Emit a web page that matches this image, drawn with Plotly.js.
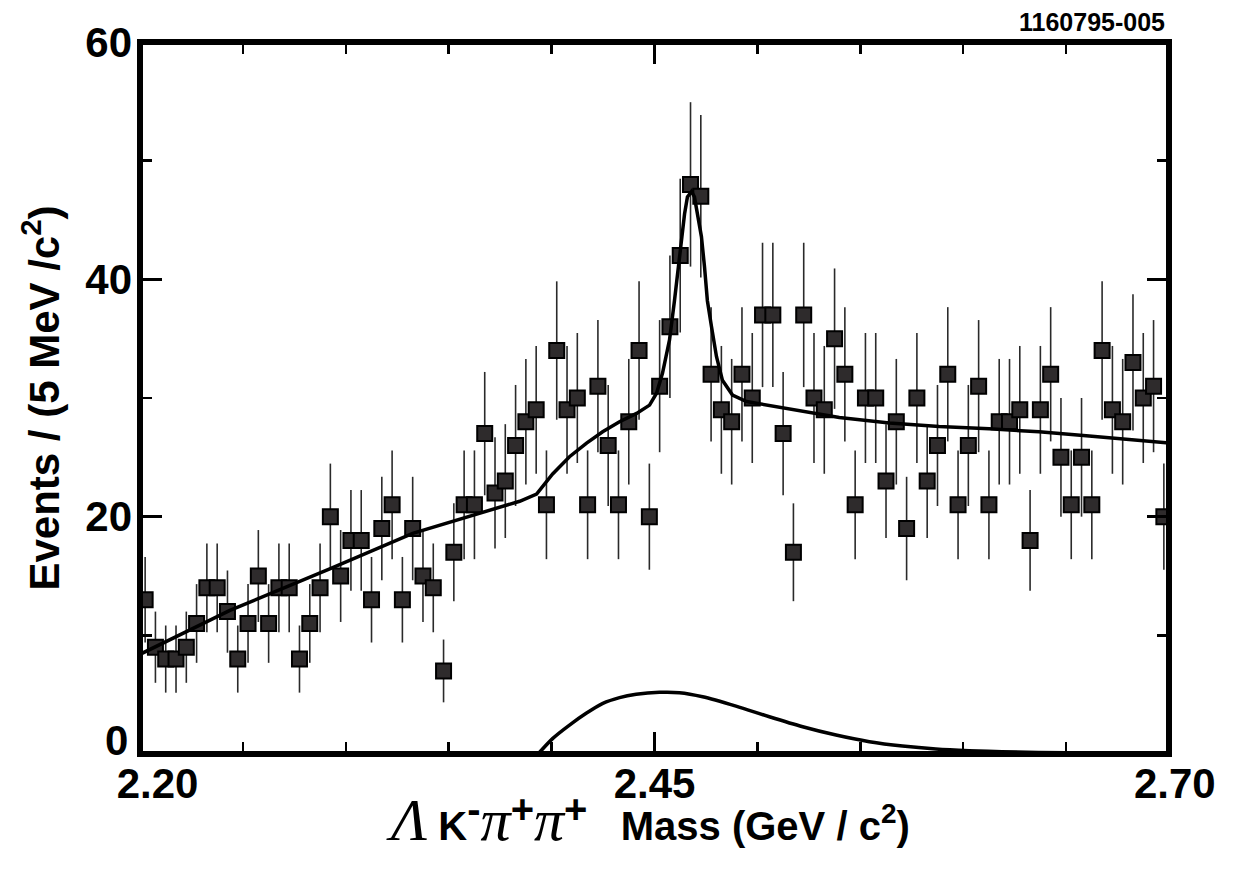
<!DOCTYPE html>
<html><head><meta charset="utf-8">
<script src="https://cdn.plot.ly/plotly-3.0.1.min.js"></script>
<style>html,body{margin:0;padding:0;background:#fff}#chart{width:1238px;height:871px}</style>
</head><body><div id="chart"></div>
<script>
// Histogram: 5 MeV bins from 2.20 to 2.70 GeV
const binStart = 2.2025;
const binWidth = 0.005;
const counts = [
  13, 9, 8, 8, 9,11,14,14,12, 8,
  11,15,11,14,14, 8,11,14,20,15,
  18,18,13,19,21,13,19,15,14, 7,
  17,21,21,27,22,23,26,28,29,21,
  34,29,30,21,31,26,21,28,34,20,
  31,36,42,48,47,32,29,28,32,30,
  37,37,27,17,37,30,29,35,32,21,
  30,30,23,28,19,30,23,26,32,21,
  26,31,21,28,28,29,18,29,32,25,
  21,25,21,34,29,28,33,30,31,20
];
// Total fit curve
const fitMass = [2.2000,2.2437,2.2922,2.3325,2.3845,2.3927,2.4005,2.4087,2.4170,2.4248,2.4330,2.4413,2.4476,2.4510,2.4539,2.4573,2.4597,2.4621,2.4646,2.4660,2.4680,2.4694,2.4709,2.4728,2.4743,2.4757,2.4777,2.4801,2.4830,2.4879,2.4947,2.5107,2.5238,2.5398,2.5641,2.5883,2.6126,2.6369,2.6612,2.6854,2.7000];
const fitTotal = [8.4,12.1,15.6,18.6,21.3,21.9,23.6,25.05,26.2,27.15,28.0,28.7,29.4,30.4,32.1,34.9,38.2,41.9,45.5,46.95,47.4,46.95,45.5,43.6,41.05,38.2,36.0,33.5,31.5,30.25,29.7,29.2,28.8,28.36,27.9,27.6,27.4,27.15,26.8,26.45,26.2];
// Lower (feed-down) component
const feedMass = [2.3934,2.4006,2.4087,2.4168,2.4249,2.4330,2.4411,2.4524,2.4621,2.4734,2.4896,2.5058,2.5220,2.5382,2.5544,2.5705,2.5867,2.6029,2.6189,2.6500,2.7000];
const feedVals = [0,1.32,2.44,3.43,4.27,4.75,5.03,5.2,5.17,4.83,4.04,3.14,2.3,1.6,1.04,0.67,0.42,0.28,0.2,0.1,0.05];

const xTickVals = [2.20, 2.45, 2.70];
const xTickText = ['\u00A0\u00A0\u00A02.20', '2.45', '\u00A02.70'];
const yTickVals = [0, 20, 40, 60];
const yTickText = ['', '20', '40', '60'];
const yZeroLabel = '0';

const F = 'Liberation Sans, Arial, Helvetica, sans-serif';
const greek = "font-family:'Liberation Serif',serif;font-style:italic;font-weight:normal;font-size:60px";
const supS = "font-size:40px";

const traces = [
  {
    type: 'scatter', mode: 'markers',
    x0: binStart, dx: binWidth, y: counts,
    marker: {symbol: 'square', size: 15, color: '#2e2b2c', line: {color: '#000', width: 2}},
    error_y: {type: 'data', array: counts.map(Math.sqrt), visible: true, color: '#2a2a2a', thickness: 1.6, width: 0},
    hoverinfo: 'x+y'
  },
  {
    type: 'scatter', mode: 'lines', x: fitMass, y: fitTotal,
    line: {color: '#000', width: 3.5, shape: 'linear'}
  },
  {
    type: 'scatter', mode: 'lines', x: feedMass, y: feedVals,
    line: {color: '#000', width: 3.5, shape: 'spline', smoothing: 0.8}
  }
];

const xTitle =
  '<span style="' + greek + '">Λ</span> K<sup><span style="' + supS + '">-</span></sup>' +
  '<span style="' + greek + '">π</span><sup><span style="' + supS + '">+</span></sup>' +
  '<span style="' + greek + '">π</span><sup><span style="' + supS + '">+</span></sup>' +
  '\u00A0\u00A0\u00A0Mass (GeV / c<sup>2</sup>)';

const bold40 = {family: F, size: 40, color: '#000', weight: 'bold'};
const bold42 = {family: F, size: 42, color: '#000', weight: 'bold'};

const layout = {
  width: 1238, height: 871,
  margin: {l: 140, r: 69, t: 42, b: 117},
  paper_bgcolor: '#fff', plot_bgcolor: '#fff',
  showlegend: false,
  xaxis: {
    range: [2.2, 2.7], tickmode: 'array', tickvals: xTickVals, ticktext: xTickText,
    ticks: 'inside', ticklen: 22, tickwidth: 2.5, tickcolor: '#000',
    mirror: 'ticks', showline: false, showgrid: false, zeroline: false,
    minor: {tickmode: 'linear', tick0: 2.2, dtick: 0.05, ticks: 'inside', ticklen: 12, tickwidth: 2.5, tickcolor: '#000', showgrid: false},
    tickfont: bold42,
    ticklabelstandoff: 1,
    automargin: false
  },
  yaxis: {
    range: [0, 60], tickmode: 'array', tickvals: yTickVals, ticktext: yTickText,
    ticks: 'inside', ticklen: 22, tickwidth: 2.5, tickcolor: '#000',
    mirror: 'ticks', showline: false, showgrid: false, zeroline: false,
    minor: {tickmode: 'linear', tick0: 0, dtick: 10, ticks: 'inside', ticklen: 12, tickwidth: 2.5, tickcolor: '#000', showgrid: false},
    tickfont: bold42,
    ticklabelstandoff: 7,
    automargin: false,
    title: {
      text: 'Events / (5 MeV /c<sup>2</sup>)',
      font: {family: F, size: 42, color: '#000', weight: 'bold'},
      standoff: 12
    }
  },
  shapes: [{
    type: 'rect', xref: 'paper', yref: 'paper', x0: 0, x1: 1, y0: 0, y1: 1,
    line: {color: '#000', width: 6}, layer: 'above'
  }],
  annotations: [
    {
      text: '1160795-005', xref: 'paper', yref: 'paper', x: 0.998, y: 1, xanchor: 'right', yanchor: 'bottom',
      yshift: 4, showarrow: false, font: {family: F, size: 25, color: '#000', weight: 'bold'}
    },
    {
      text: yZeroLabel, xref: 'paper', yref: 'y', x: 0, y: 0, xanchor: 'right', yanchor: 'middle',
      xshift: -10, yshift: 14, showarrow: false, font: bold42
    },
    {
      text: xTitle, xref: 'paper', yref: 'paper', x: 0.4935, y: -0.093, xanchor: 'center', yanchor: 'middle',
      showarrow: false, font: bold40
    }
  ]
};

Plotly.newPlot('chart', traces, layout, {displayModeBar: false, staticPlot: true});
</script>
</body></html>
